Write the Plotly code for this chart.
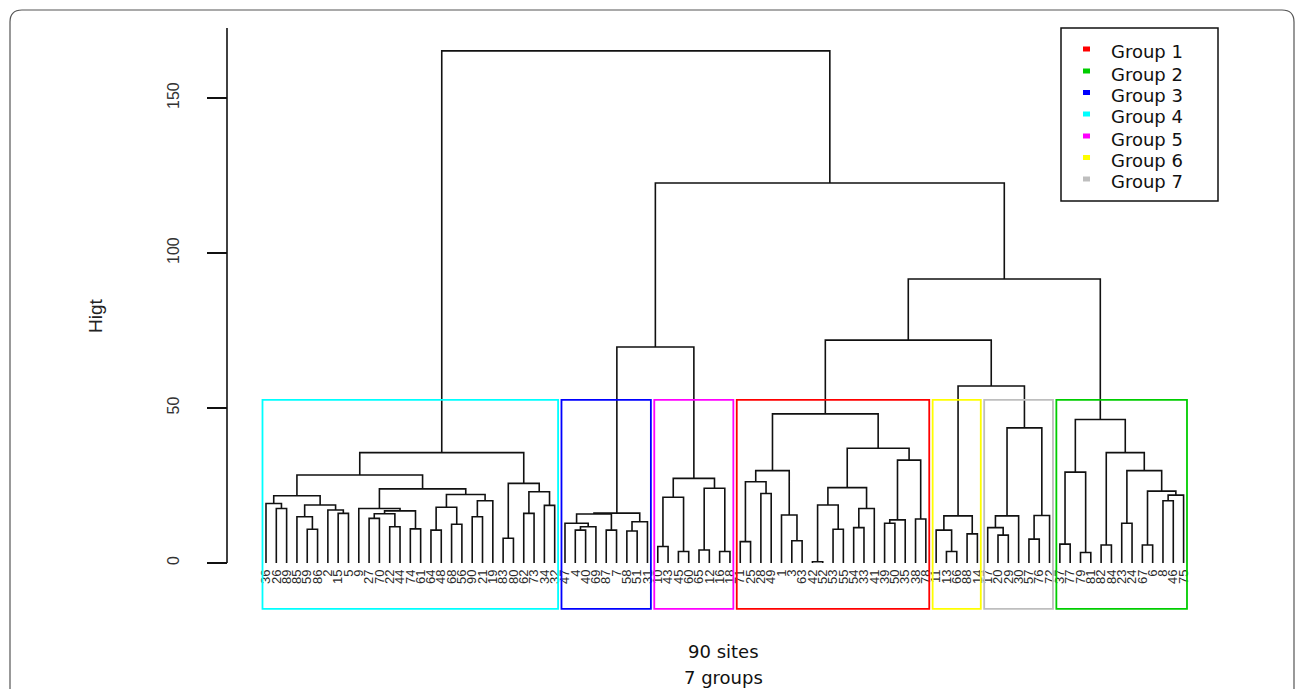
import plotly.graph_objects as go

# ---------------- data ----------------
# site labels in dendrogram (display) order, left to right
leaf_labels = [36, 26, 89, 85, 59, 86, 2, 15, 5, 9, 27, 70, 22, 44, 74, 61, 64, 48, 68, 56,
               90, 21, 19, 83, 80, 62, 73, 34, 32,
               47, 4, 40, 69, 87, 7, 58, 51, 31,
               10, 43, 45, 60, 65, 12, 16, 18,
               71, 25, 28, 49, 1, 3, 63, 42, 52, 53, 55, 54, 33, 41, 39, 50, 35, 38, 78,
               11, 13, 66, 88, 14,
               17, 20, 29, 30, 57, 76, 72,
               37, 77, 79, 81, 82, 84, 23, 24, 67, 6, 8, 46, 75]

# merges: (name, left child, right child, height); ints are leaf positions
merges = [
    # group 4 (cyan)
    ("c1", 1, 2, 17.6), ("c2", 0, "c1", 19.2), ("c3", 4, 5, 10.9), ("c4", 3, "c3", 14.9),
    ("c5", 7, 8, 16.0), ("c6", 6, "c5", 17.1), ("c7", "c4", "c6", 18.7), ("c8", "c2", "c7", 21.7),
    ("c9", 10, 11, 14.4), ("c10", 12, 13, 11.7), ("c11", "c9", "c10", 15.9), ("c12", 14, 15, 11.0),
    ("c13", "c11", "c12", 16.8), ("c14", 9, "c13", 17.6), ("c15", 16, 17, 10.6), ("c16", 18, 19, 12.5),
    ("c17", "c15", "c16", 18.0), ("c18", 20, 21, 14.9), ("c19", "c18", 22, 20.1),
    ("c20", "c17", "c19", 22.1), ("c21", "c14", "c20", 23.9), ("c22", "c8", "c21", 28.4),
    ("c23", 23, 24, 8.0), ("c24", 25, 26, 16.0), ("c25", 27, 28, 18.6), ("c26", "c24", "c25", 23.0),
    ("c27", "c23", "c26", 25.7), ("c28", "c22", "c27", 35.6),
    # group 3 (blue)
    ("b1", 30, 31, 10.6), ("b2", "b1", 32, 11.7), ("b3", 29, "b2", 12.8), ("b4", 33, 34, 10.6),
    ("b5", "b3", "b4", 15.8), ("b6", 35, 36, 10.3), ("b7", "b6", 37, 13.3), ("b8", "b5", "b7", 16.1),
    # group 5 (magenta)
    ("m1", 38, 39, 5.3), ("m2", 40, 41, 3.7), ("m3", "m1", "m2", 21.2), ("m4", 42, 43, 4.2),
    ("m5", 44, 45, 3.7), ("m6", "m4", "m5", 24.1), ("m7", "m3", "m6", 27.3),
    # group 1 (red)
    ("r1", 46, 47, 6.9), ("r2", 48, 49, 22.4), ("r3", "r1", "r2", 26.2), ("r4", 51, 52, 7.2),
    ("r5", 50, "r4", 15.5), ("r6", "r3", "r5", 29.8), ("r7", 53, 54, 0.4), ("r8", 55, 56, 10.9),
    ("r9", "r7", "r8", 18.7), ("r10", 57, 58, 11.4), ("r11", "r10", 59, 17.6),
    ("r12", "r9", "r11", 24.3), ("r13", 60, 61, 12.8), ("r14", "r13", 62, 13.9),
    ("r15", 63, 64, 14.2), ("r16", "r14", "r15", 33.2), ("r17", "r12", "r16", 37.0),
    ("r18", "r6", "r17", 48.1),
    # group 6 (yellow)
    ("y1", 66, 67, 3.7), ("y2", 65, "y1", 10.6), ("y3", 68, 69, 9.4), ("y4", "y2", "y3", 15.2),
    # group 7 (gray)
    ("g1", 71, 72, 9.0), ("g2", 70, "g1", 11.4), ("g3", "g2", 73, 15.2), ("g4", 74, 75, 7.7),
    ("g5", "g4", 76, 15.3), ("g6", "g3", "g5", 43.6), ("yg", "y4", "g6", 57.1),
    # group 2 (green)
    ("n1", 77, 78, 6.1), ("n2", 79, 80, 3.4), ("n3", "n1", "n2", 29.3), ("n4", 81, 82, 5.8),
    ("n5", 83, 84, 12.8), ("n6", 85, 86, 5.8), ("n7", 87, 88, 20.1), ("n8", "n7", 89, 21.9),
    ("n9", "n6", "n8", 23.2), ("n10", "n5", "n9", 29.8), ("n11", "n4", "n10", 35.6),
    ("n12", "n3", "n11", 46.3),
    # upper levels
    ("t1", "r18", "yg", 71.9), ("t2", "t1", "n12", 91.6), ("t3", "b8", "m7", 69.7),
    ("t4", "t3", "t2", 122.6), ("t5", "c28", "t4", 165.2),
]

group_names = ["Group 1", "Group 2", "Group 3", "Group 4", "Group 5", "Group 6", "Group 7"]
group_colors = ["#FF0000", "#00CD00", "#0000FF", "#00FFFF", "#FF00FF", "#FFFF00", "#BEBEBE"]
# boxes in display order: group index, first leaf, last leaf
box_group = [3, 2, 4, 0, 5, 6, 1]
box_first = [0, 29, 38, 46, 65, 70, 77]
box_last = [28, 37, 45, 64, 69, 76, 89]
cut_height = 52.6
y_ticks = [0, 50, 100, 150]

# ---------------- geometry helpers ----------------
W, H = 1296, 689
def px(x):
    return x / W
def py(y):
    return 1 - y / H

pos, hgt = {}, {}
def node(c):
    if isinstance(c, int):
        return float(c), 0.0
    return pos[c], hgt[c]

xs, ys = [], []
for name, a, b, h in merges:
    xa, ha = node(a)
    xb, hb = node(b)
    xs += [xa, xa, xb, xb, None]
    ys += [ha, h, h, hb, None]
    pos[name] = (xa + xb) / 2
    hgt[name] = h

fig = go.Figure()
fig.add_trace(go.Scatter(x=xs, y=ys, mode="lines", line=dict(color="#111111", width=1.6),
                         hoverinfo="skip", showlegend=False))

shapes = []
for g, f, l in zip(box_group, box_first, box_last):
    shapes.append(dict(type="rect", xref="x", yref="y", x0=f - 0.34, x1=l + 0.33,
                       y0=-14.8, y1=cut_height, line=dict(color=group_colors[g], width=1.8),
                       fillcolor="rgba(0,0,0,0)"))

# y axis line
shapes.append(dict(type="line", xref="paper", yref="y", x0=px(227), x1=px(227), y0=0, y1=172.6,
                   line=dict(color="#111111", width=1.6)))

# legend box
shapes.append(dict(type="rect", xref="paper", yref="paper", x0=px(1061), x1=px(1218),
                   y0=py(201), y1=py(28), line=dict(color="#111111", width=1.5),
                   fillcolor="white"))
legend_rows = [51, 73, 94.5, 116, 138, 159.5, 181]
annotations = []
for i, (nm, col) in enumerate(zip(group_names, group_colors)):
    yc = legend_rows[i]
    shapes.append(dict(type="rect", xref="paper", yref="paper", x0=px(1083), x1=px(1090),
                       y0=py(yc + 0.5), y1=py(yc - 4.5), line=dict(width=0), fillcolor=col))
    annotations.append(dict(text=nm, xref="paper", yref="paper", x=px(1109), y=py(yc + 1),
                            xanchor="left", yanchor="middle", showarrow=False,
                            font=dict(family="DejaVu Sans", size=18, color="#111111")))

# outer rounded frame
rx, ry = 12 / W, 12 / H
x0f, x1f, ytf, ybf = px(10), px(1294), py(10), -0.05
frame_path = (f"M {x0f+rx},{ytf} L {x1f-rx},{ytf} Q {x1f},{ytf} {x1f},{ytf-ry} "
              f"L {x1f},{ybf} L {x0f},{ybf} L {x0f},{ytf-ry} Q {x0f},{ytf} {x0f+rx},{ytf} Z")
shapes.append(dict(type="path", xref="paper", yref="paper", path=frame_path,
                   line=dict(color="#555555", width=1.2)))

annotations += [
    dict(text="Higt", xref="paper", yref="paper", x=px(95), y=py(316), textangle=-90,
         xanchor="center", yanchor="middle", showarrow=False,
         font=dict(family="Liberation Sans", size=19, color="#222222")),
    dict(text="90 sites", xref="paper", yref="paper", x=px(723), y=py(651.5),
         xanchor="center", yanchor="middle", showarrow=False,
         font=dict(family="DejaVu Sans", size=18, color="#111111")),
    dict(text="7 groups", xref="paper", yref="paper", x=px(723), y=py(677),
         xanchor="center", yanchor="middle", showarrow=False,
         font=dict(family="DejaVu Sans", size=18, color="#111111")),
]

x_scale = 10.31
x_lo = -266 / x_scale
x_hi = x_lo + W / x_scale
y_scale = 3.1
y_lo = -(H - 563) / y_scale
y_hi = y_lo + H / y_scale

fig.update_layout(
    width=W, height=H, margin=dict(l=0, r=0, t=0, b=0),
    paper_bgcolor="white", plot_bgcolor="white", showlegend=False,
    shapes=shapes, annotations=annotations,
    xaxis=dict(range=[x_lo, x_hi], domain=[0, 1], anchor="free", position=py(566),
               showgrid=False, zeroline=False, showline=False, ticks="",
               tickmode="array", tickvals=list(range(len(leaf_labels))),
               ticktext=[str(v) for v in leaf_labels], tickangle=-90,
               tickfont=dict(family="Liberation Sans", size=13, color="#2a2a2a")),
    yaxis=dict(range=[y_lo, y_hi], domain=[0, 1], anchor="free", position=px(227),
               showgrid=False, zeroline=False, showline=False,
               tickmode="array", tickvals=y_ticks, ticktext=[str(v) for v in y_ticks],
               ticks="outside", ticklen=20, tickwidth=1.6, tickcolor="#111111",
               tickangle=-90, ticklabelstandoff=22,
               tickfont=dict(family="Liberation Sans", size=16, color="#333333")),
)

fig.write_html("out.html", config={"displayModeBar": False},
               post_script="document.body.style.margin='0px';")
